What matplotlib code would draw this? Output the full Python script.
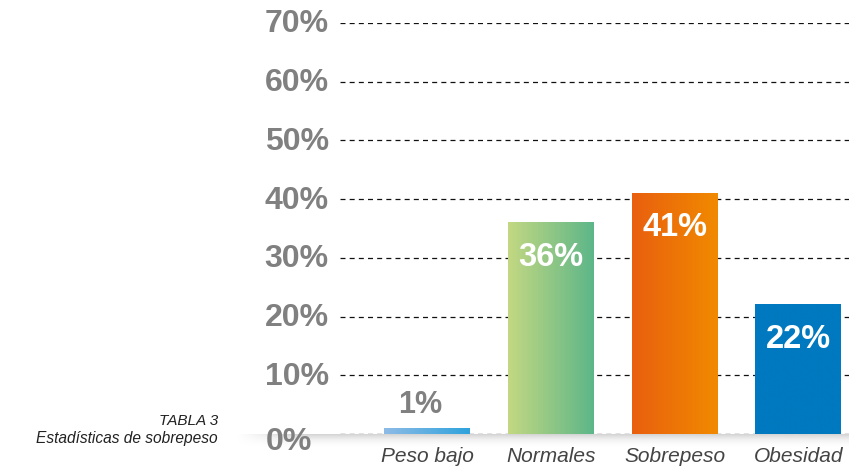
import matplotlib.pyplot as plt
import numpy as np
from matplotlib.colors import LinearSegmentedColormap

categories = ["Peso bajo", "Normales", "Sobrepeso", "Obesidad"]
values = [1, 36, 41, 22]
value_labels = ["1%", "36%", "41%", "22%"]
y_ticks = [0, 10, 20, 30, 40, 50, 60, 70]
y_tick_labels = ["0%", "10%", "20%", "30%", "40%", "50%", "60%", "70%"]
bar_colors = [("#8ebbe6", "#2ea3dc"), ("#c3d882", "#5db689"),
              ("#e95f0f", "#f18a00"), ("#0079c0", "#0079c0")]

plt.rcParams['lines.scale_dashes'] = False
plt.rcParams['font.family'] = ['Liberation Sans', 'DejaVu Sans']

fig = plt.figure(figsize=(8.49, 4.70), dpi=100)

# soft shadow under the baseline
sh = fig.add_axes([237/849, 1-447/470, 612/849, 13/470], zorder=0)
vert = np.linspace(1, 0, 50).reshape(-1, 1) ** 1.5
horiz = np.clip(np.linspace(0, 12, 400), 0, 1).reshape(1, -1)
sh.imshow(vert * horiz * 0.28, cmap='Greys', vmin=0, vmax=1, aspect='auto')
sh.axis('off')

ax = fig.add_axes([340/849, 1-434/470, 509/849, 411/470], zorder=1)
ax.patch.set_alpha(0)
x = np.arange(len(categories))
bars = ax.bar(x, values, width=0.695, color='none', zorder=2)
for b, (c1, c2) in zip(bars, bar_colors):
    cmap = LinearSegmentedColormap.from_list('g', [c1, c2])
    grad = np.linspace(0, 1, 256).reshape(1, -1)
    ax.imshow(grad, cmap=cmap, aspect='auto', zorder=2,
              extent=[b.get_x(), b.get_x() + b.get_width(), 0, b.get_height()])

for t in y_ticks:
    ax.axhline(t, color='#111111', lw=0.9, dashes=(3.6, 3), zorder=1)

ax.set_xlim(-0.705, 3.41)
ax.set_ylim(0, 70)
for s in ax.spines.values():
    s.set_visible(False)
ax.set_yticks([])
ax.set_xticks(x, categories)
ax.tick_params(axis='x', length=0, pad=9)
for lab in ax.get_xticklabels():
    lab.set_fontsize(15)
    lab.set_style('italic')
    lab.set_color('#444444')

for t, lab in zip(y_ticks, y_tick_labels):
    off = (-20, -6) if t == 0 else (-8, -1)
    ax.annotate(lab, xy=(0, t), xycoords=('axes fraction', 'data'),
                xytext=off, textcoords='offset points', ha='right', va='center',
                fontsize=23, fontweight='bold', color='#808080')

for xi, v, lab in zip(x, values, value_labels):
    if v < 5:
        ax.annotate(lab, xy=(xi, v), xytext=(-5, 17), textcoords='offset points',
                    ha='center', va='center', fontsize=22, fontweight='bold',
                    color='#808080')
    else:
        ax.annotate(lab, xy=(xi, v), xytext=(0, -25), textcoords='offset points',
                    ha='center', va='center', fontsize=23.5, fontweight='bold',
                    color='white', zorder=3)

fig.text(218/849, 1-421/470, "TABLA 3", ha='right', va='center',
         style='italic', fontsize=11, color='#222222')
fig.text(218/849, 1-439/470, "Estadísticas de sobrepeso", ha='right', va='center',
         style='italic', fontsize=11.2, color='#222222')

plt.savefig("out.png", dpi=100)
